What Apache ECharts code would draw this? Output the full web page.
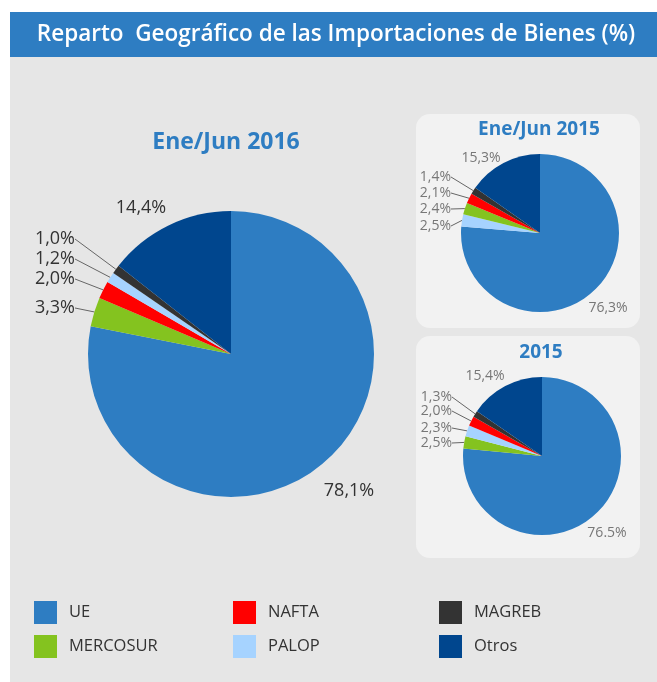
<!DOCTYPE html>
<html>
<head>
<meta charset="utf-8">
<script src="https://cdn.jsdelivr.net/npm/echarts@6/dist/echarts.min.js"></script>
<style>
html, body { margin: 0; padding: 0; background: #fff; }
#chart { width: 657px; height: 682px; }
</style>
</head>
<body>
<div id="chart"></div>
<script>
// legend order
const legendRows = [['UE', 'MERCOSUR'], ['NAFTA', 'PALOP'], ['MAGREB', 'Otros']]
const regionColors = {
  UE: '#2e7dc2',
  MERCOSUR: '#84c31f',
  NAFTA: '#ff0000',
  PALOP: '#a6d3ff',
  MAGREB: '#333333',
  Otros: '#00468e'
}

// Ene/Jun 2016 (big pie), clockwise from 12 o'clock
const names2016 = ['UE', 'MERCOSUR', 'NAFTA', 'PALOP', 'MAGREB', 'Otros']
const values2016 = [78.1, 3.3, 2.0, 1.2, 1.0, 14.4]
const labels2016 = ['78,1%', '3,3%', '2,0%', '1,2%', '1,0%', '14,4%']

// Ene/Jun 2015
const namesH2015 = ['UE', 'PALOP', 'MERCOSUR', 'NAFTA', 'MAGREB', 'Otros']
const valuesH2015 = [76.3, 2.5, 2.4, 2.1, 1.4, 15.3]
const labelsH2015 = ['76,3%', '2,5%', '2,4%', '2,1%', '1,4%', '15,3%']

// 2015
const names2015 = ['UE', 'MERCOSUR', 'PALOP', 'NAFTA', 'MAGREB', 'Otros']
const values2015 = [76.5, 2.5, 2.3, 2.0, 1.3, 15.4]
const labels2015 = ['76.5%', '2,5%', '2,3%', '2,0%', '1,3%', '15,4%']

// where each label sits (x, y, align)
const labelPos = [
  [[349, 491, 'center'], [75, 308, 'right'], [75, 279, 'right'], [75, 259, 'right'], [75, 239, 'right'], [141, 208, 'center']],
  [[608, 308, 'center'], [451, 226, 'right'], [451, 209, 'right'], [451, 193, 'right'], [451, 177, 'right'], [481, 158, 'center']],
  [[607, 533, 'center'], [452, 443, 'right'], [452, 428, 'right'], [452, 411, 'right'], [452, 397, 'right'], [485, 376, 'center']]
]

const font = '"Open Sans", "Noto Sans", sans-serif'

function buildData (names, values, labels) {
  return names.map((n, i) => {
    const big = i === 0 || i === names.length - 1
    return {
      name: n,
      value: values[i],
      itemStyle: { color: regionColors[n] },
      label: { formatter: labels[i] },
      labelLine: { show: !big }
    }
  })
}

function pieSeries (idx, center, radius, data, labelColor, labelSize, lineColor) {
  return {
    type: 'pie',
    center: center,
    radius: radius,
    startAngle: 90,
    clockwise: true,
    animation: false,
    data: data,
    label: {
      show: true,
      position: 'outside',
      color: labelColor,
      fontSize: labelSize,
      fontFamily: font,
      overflow: 'none'
    },
    labelLine: {
      show: true,
      length: 8,
      length2: 0,
      lineStyle: { color: lineColor, width: 1 }
    },
    labelLayout: function (params) {
      const p = labelPos[idx][params.dataIndex]
      return { x: p[0], y: p[1], align: p[2], verticalAlign: 'middle' }
    },
    emphasis: { disabled: true }
  }
}

const chart = echarts.init(document.getElementById('chart'))

chart.setOption({
  animation: false,
  graphic: [
    { type: 'rect', shape: { x: 10, y: 57, width: 647, height: 625 }, style: { fill: '#e6e6e6' }, z: -10 },
    { type: 'rect', shape: { x: 10, y: 12, width: 647, height: 45 }, style: { fill: '#2e7dc2' }, z: -10 },
    { type: 'rect', shape: { x: 416, y: 114, width: 224, height: 214, r: 14 }, style: { fill: '#f2f2f2' }, z: -9 },
    { type: 'rect', shape: { x: 416, y: 336, width: 224, height: 222, r: 14 }, style: { fill: '#f2f2f2' }, z: -9 },
    {
      type: 'text', x: 336, y: 35,
      style: { text: 'Reparto  Geográfico de las Importaciones de Bienes (%)', fill: '#fff', font: '600 22.5px ' + font, align: 'center', verticalAlign: 'middle' }
    },
    {
      type: 'text', x: 226, y: 142,
      style: { text: 'Ene/Jun 2016', fill: '#2e7dc2', font: 'bold 23px ' + font, align: 'center', verticalAlign: 'middle' }
    },
    {
      type: 'text', x: 539, y: 130,
      style: { text: 'Ene/Jun 2015', fill: '#2e7dc2', font: 'bold 19px ' + font, align: 'center', verticalAlign: 'middle' }
    },
    {
      type: 'text', x: 541, y: 353,
      style: { text: '2015', fill: '#2e7dc2', font: 'bold 19px ' + font, align: 'center', verticalAlign: 'middle' }
    }
  ],
  legend: legendRows.map((row, i) => ({
    data: row,
    orient: 'vertical',
    left: [34, 233, 439][i],
    top: 601,
    padding: 0,
    icon: 'rect',
    itemWidth: 23,
    itemHeight: 23,
    itemGap: 11,
    selectedMode: false,
    textStyle: { color: '#333', fontSize: 16.5, fontFamily: font, padding: [3, 0, 0, 7] }
  })),
  series: [
    pieSeries(0, [231, 354], 143, buildData(names2016, values2016, labels2016), '#333', 18, '#666'),
    pieSeries(1, [540, 233], 79, buildData(namesH2015, valuesH2015, labelsH2015), '#777', 14, '#666'),
    pieSeries(2, [542, 456], 79, buildData(names2015, values2015, labels2015), '#777', 14, '#666')
  ]
})
</script>
</body>
</html>
